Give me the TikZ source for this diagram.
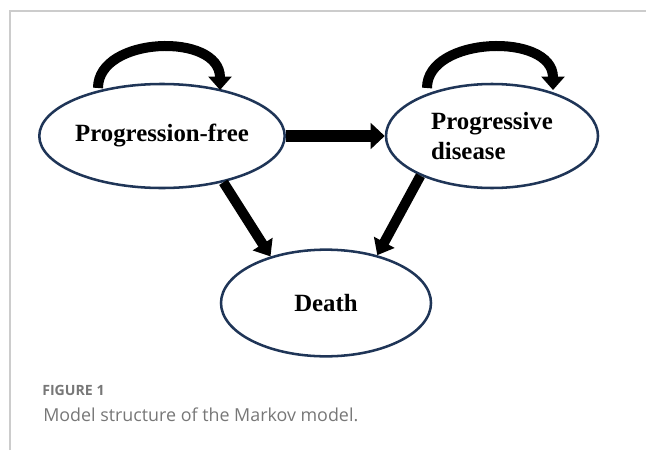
\documentclass[tikz,border=0pt]{standalone}
\usepackage{fontspec}
\setmainfont{Liberation Serif}
\newfontfamily\capfont{Open Sans}
\usetikzlibrary{arrows.meta, shapes.geometric}
\definecolor{state_navy}{HTML}{1F3557}
\definecolor{frame_gray}{HTML}{CCCCCC}
\definecolor{caption_gray}{HTML}{777777}

\begin{document}
\begin{tikzpicture}[x=0.75pt, y=-0.75pt,
  state/.style={ellipse, draw=state_navy, line width=1.9pt, inner sep=0pt,
    minimum width=157.5pt, minimum height=78pt,
    font=\fontsize{18.6}{22.5}\selectfont\bfseries, align=left},
  selfarrow/.style={line width=7.5pt, -{Triangle[length=10pt, width=17pt]}},
  movearrow/.style={line width=8.5pt, -{Triangle[length=10.5pt, width=19pt]}},
  deatharrow/.style={line width=7.5pt, -{Triangle[length=11pt, width=17pt]}},
  captext/.style={anchor=base west, inner sep=0pt, text=caption_gray}]
\useasboundingbox (0,0) rectangle (646,450);
% --- page frame ---
\draw[frame_gray, line width=1pt] (10,450) -- (10,11) -- (646,11);

% --- states ---
\node[state] (pf) at (162,136) {Progression-free};
\node[state, minimum width=159pt] (pd) at (492,136) {Progressive\\disease};
\node[state, minimum height=80pt] (death) at (326,303) {Death};

% --- staying in the same state ---
\coordinate (pfstay) at ([shift={(-64,-48)}]pf.center);
\coordinate (pfback) at ([shift={(58,-46)}]pf.center);
\coordinate (pdstay) at ([shift={(-65,-48)}]pd.center);
\coordinate (pdback) at ([shift={(61,-46)}]pd.center);
\draw[selfarrow] (pfstay) .. controls +(0,-52) and +(0,-58) .. (pfback);
\draw[selfarrow] (pdstay) .. controls +(0,-52) and +(0,-58) .. (pdback);

% --- transitions ---
\draw[movearrow] (pf.east) -- (pd.west);
\draw[deatharrow] (pf.-37) -- (death.140);
\draw[deatharrow] (pd.209) -- (death.43);

% --- caption ---
\node[captext, font=\capfont\bfseries\fontsize{10.6}{12}\selectfont] (figlabel) at (42,395) {FIGURE 1};
\node[captext, font=\capfont\fontsize{13.4}{16}\selectfont] (figcaption) at (43,421) {Model structure of the Markov model.};
\end{tikzpicture}
\end{document}
